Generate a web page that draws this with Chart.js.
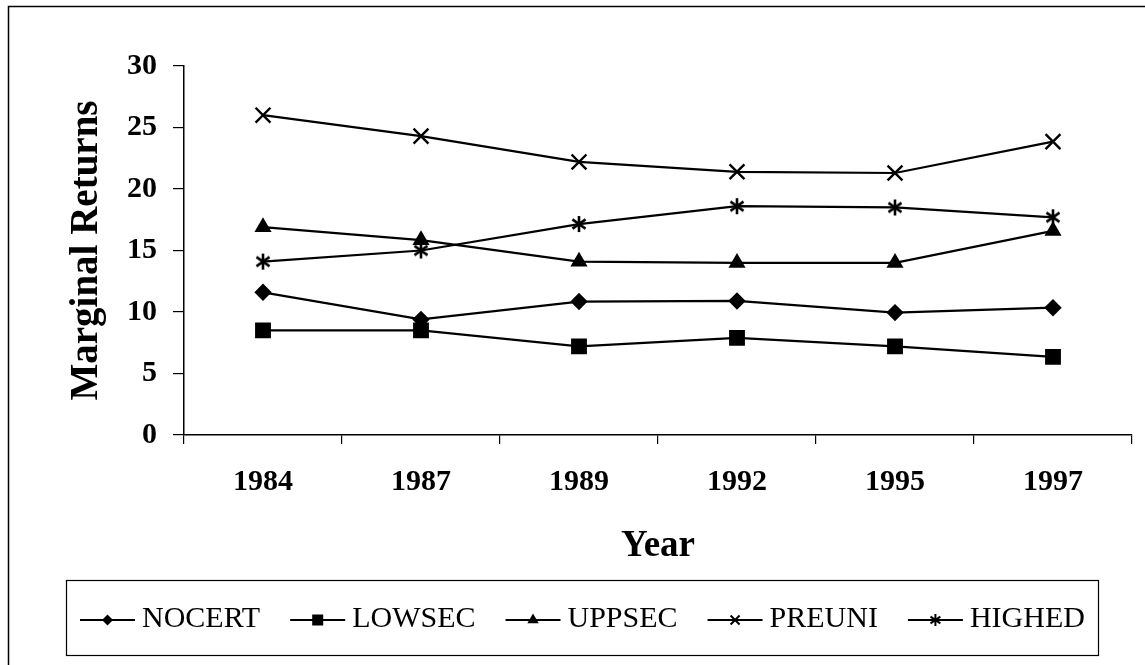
<!DOCTYPE html>
<html>
<head>
<meta charset="utf-8">
<script src="https://cdn.jsdelivr.net/npm/chart.js@4.4.0/dist/chart.umd.min.js"></script>
<style>
  html, body { margin: 0; padding: 0; background: #fff; }
  #c { display: block; }
</style>
</head>
<body>
<canvas id="c" width="1145" height="665"></canvas>
<script>
// ---- data ----
const years = ['1984', '1987', '1989', '1992', '1995', '1997'];
const NOCERT = [11.6, 9.4, 10.85, 10.9, 9.95, 10.35];
const LOWSEC = [8.5, 8.5, 7.2, 7.9, 7.2, 6.35];
const UPPSEC = [16.9, 15.85, 14.1, 14.0, 14.0, 16.6];
const PREUNI = [26.0, 24.3, 22.2, 21.4, 21.3, 23.85];
const HIGHED = [14.1, 15.0, 17.15, 18.6, 18.5, 17.7];
const yTicks = [0, 5, 10, 15, 20, 25, 30];

const FONT = '"Liberation Serif", "Times New Roman", Times, serif';

// asterisk marker canvas
function makeAsterisk(r, lw) {
  const s = Math.ceil(r * 2 + lw * 2);
  const cv = document.createElement('canvas');
  cv.width = s; cv.height = s;
  const g = cv.getContext('2d');
  g.strokeStyle = '#000'; g.lineWidth = lw; g.lineCap = 'butt';
  g.translate(s / 2, s / 2);
  drawAsteriskPath(g, 0, 0, r);
  return cv;
}
function drawAsteriskPath(g, x, y, r) {
  g.beginPath();
  [90, 35, 145].forEach(a => {
    const rad = a * Math.PI / 180;
    g.moveTo(x - r * Math.cos(rad), y - r * Math.sin(rad));
    g.lineTo(x + r * Math.cos(rad), y + r * Math.sin(rad));
  });
  g.stroke();
}
const asterisk = makeAsterisk(8, 2.6);

const seriesDefs = [
  { label: 'NOCERT', data: NOCERT, pointStyle: 'rectRot', pointRadius: 7, marker: 'diamond' },
  { label: 'LOWSEC', data: LOWSEC, pointStyle: 'rect', pointRadius: 9.5, marker: 'square' },
  { label: 'UPPSEC', data: UPPSEC, pointStyle: 'triangle', pointRadius: 7.5, marker: 'triangle' },
  { label: 'PREUNI', data: PREUNI, pointStyle: 'crossRot', pointRadius: 10.5, marker: 'x' },
  { label: 'HIGHED', data: HIGHED, pointStyle: asterisk, pointRadius: 8, marker: 'asterisk' }
];

const datasets = seriesDefs.map(s => ({
  label: s.label,
  data: s.data,
  borderColor: '#000',
  backgroundColor: '#000',
  borderWidth: 2.2,
  pointStyle: s.pointStyle,
  pointRadius: s.pointRadius,
  pointHoverRadius: s.pointRadius,
  pointBorderWidth: 2.4,
  pointBackgroundColor: '#000',
  pointBorderColor: '#000',
  tension: 0,
  fill: false,
  marker: s.marker
}));

function drawLegendMarker(g, type, x, y) {
  g.save();
  g.fillStyle = '#000'; g.strokeStyle = '#000'; g.lineWidth = 2;
  if (type === 'diamond') {
    const r = 5.5;
    g.beginPath(); g.moveTo(x, y - r); g.lineTo(x + r, y); g.lineTo(x, y + r); g.lineTo(x - r, y); g.closePath(); g.fill();
  } else if (type === 'square') {
    const h = 5.5; g.fillRect(x - h, y - h, 2 * h, 2 * h);
  } else if (type === 'triangle') {
    const r = 6.5;
    g.beginPath(); g.moveTo(x, y - r); g.lineTo(x + r * 0.87, y + r * 0.5); g.lineTo(x - r * 0.87, y + r * 0.5); g.closePath(); g.fill();
  } else if (type === 'x') {
    const h = 4.5;
    g.beginPath(); g.moveTo(x - h, y - h); g.lineTo(x + h, y + h); g.moveTo(x + h, y - h); g.lineTo(x - h, y + h); g.stroke();
  } else if (type === 'asterisk') {
    drawAsteriskPath(g, x, y, 6);
  }
  g.restore();
}

const framePlugin = {
  id: 'frame',
  afterDraw(chart) {
    const g = chart.ctx;
    g.save();
    // outer border (top and left visible)
    g.strokeStyle = '#000'; g.lineWidth = 1.5;
    g.strokeRect(8.5, 6.5, 1145, 700);
    // legend box
    g.lineWidth = 1.2;
    g.strokeRect(66.5, 580.5, 1032, 75);
    // legend items
    g.font = '30px ' + FONT;
    g.textBaseline = 'alphabetic';
    g.fillStyle = '#000';
    let x = 80;
    const ly = 620;
    chart.data.datasets.forEach(ds => {
      g.strokeStyle = '#000'; g.lineWidth = 2;
      g.beginPath(); g.moveTo(x, ly); g.lineTo(x + 55, ly); g.stroke();
      drawLegendMarker(g, ds.marker, x + 27.5, ly);
      const tx = x + 62;
      g.fillText(ds.label, tx, 627);
      x = tx + g.measureText(ds.label).width + 30;
    });
    g.restore();
  }
};

new Chart(document.getElementById('c'), {
  type: 'line',
  data: { labels: years, datasets },
  options: {
    responsive: false,
    animation: false,
    devicePixelRatio: 1,
    layout: { padding: { left: 0, right: 13, top: 66, bottom: 0 } },
    plugins: { legend: { display: false }, tooltip: { enabled: false } },
    scales: {
      x: {
        type: 'category',
        offset: true,
        grid: { offset: true, drawOnChartArea: false, drawTicks: true, tickLength: 9, color: '#000', lineWidth: 1.2 },
        border: { color: '#000', width: 1.5 },
        ticks: { color: '#000', padding: 20, font: { family: FONT, size: 30, weight: 'bold' }, maxRotation: 0 },
        title: { display: true, text: 'Year', color: '#000', font: { family: FONT, size: 37, weight: 'bold' }, padding: { top: 0, bottom: 96 } },
        afterFit(scale) { scale.height = 230; }
      },
      y: {
        min: 0, max: 30,
        afterBuildTicks(scale) { scale.ticks = yTicks.map(v => ({ value: v })); },
        grid: { drawOnChartArea: false, drawTicks: true, tickLength: 11, color: '#000', lineWidth: 1.2 },
        border: { color: '#000', width: 1.5 },
        ticks: { color: '#000', padding: 16, font: { family: FONT, size: 30, weight: 'bold' } },
        title: { display: true, text: 'Marginal Returns', color: '#000', font: { family: FONT, size: 39, weight: 'bold' }, padding: { top: 64, bottom: 0 } },
        afterFit(scale) { scale.width = 184; }
      }
    }
  },
  plugins: [framePlugin]
});
</script>
</body>
</html>
